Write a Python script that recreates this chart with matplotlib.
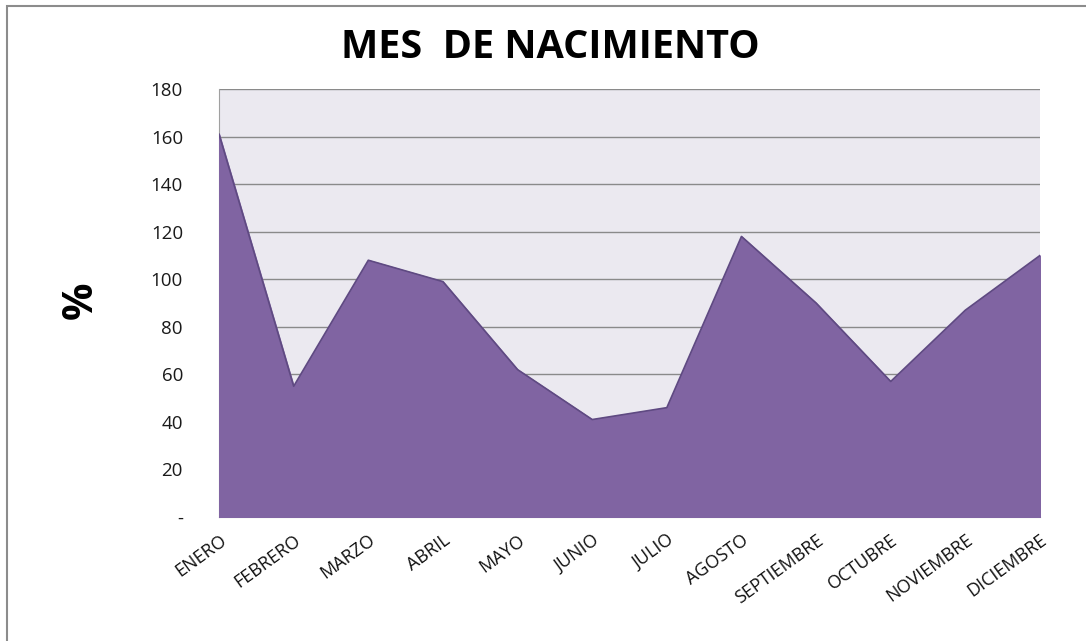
import matplotlib

matplotlib.use("Agg")
import matplotlib.pyplot as plt
from matplotlib.patches import Rectangle

months = ["ENERO", "FEBRERO", "MARZO", "ABRIL", "MAYO", "JUNIO", "JULIO",
          "AGOSTO", "SEPTIEMBRE", "OCTUBRE", "NOVIEMBRE", "DICIEMBRE"]
values = [161, 55, 108, 99, 62, 41, 46, 118, 90, 57, 87, 110]
yticks = [0, 20, 40, 60, 80, 100, 120, 140, 160, 180]
ytick_labels = ["-", "20", "40", "60", "80", "100", "120", "140", "160", "180"]

plt.rcParams["font.family"] = ["Open Sans", "DejaVu Sans"]

fig = plt.figure(figsize=(10.86, 6.41), dpi=100)
ax = fig.add_axes([0.2017, 0.1934, 0.7559, 0.6677])

# outer chart frame
fig.patches.append(Rectangle((0.006, -0.01), 1.0, 1.0, transform=fig.transFigure,
                             fill=False, edgecolor="#8c8c8c", linewidth=1.5))

x = list(range(len(months)))
ax.set_facecolor("#ebe9f0")
ax.fill_between(x, values, 0, color="#8064a2", zorder=3)
ax.plot(x, values, color="#5f4a82", linewidth=1.2, zorder=4)

ax.set_xlim(0, len(months) - 1)
ax.set_ylim(0, 180)
ax.set_yticks(yticks)
ax.set_yticklabels(ytick_labels, fontsize=13.5, color="#1a1a1a")
ax.grid(axis="y", color="#8a8a8a", linewidth=1.0, zorder=1)
ax.set_axisbelow(True)

ax.set_xticks(x)
ax.set_xticklabels(months, rotation=36, ha="right", rotation_mode="anchor",
                   fontsize=13, color="#111111")
ax.tick_params(axis="x", length=0, pad=10)
ax.tick_params(axis="y", length=0, pad=26)

for side in ["top", "right"]:
    ax.spines[side].set_visible(False)
ax.spines["left"].set_color("#a0a0a0")
ax.spines["bottom"].set_color("#a0a0a0")

ax.set_ylabel("%", fontsize=30, fontweight="bold")
ax.yaxis.set_label_coords(-0.143, 0.507)
fig.text(0.507, 0.926, "MES  DE NACIMIENTO", ha="center", va="center",
         fontsize=28.5, fontweight="bold")

fig.savefig("out.png", dpi=100)
